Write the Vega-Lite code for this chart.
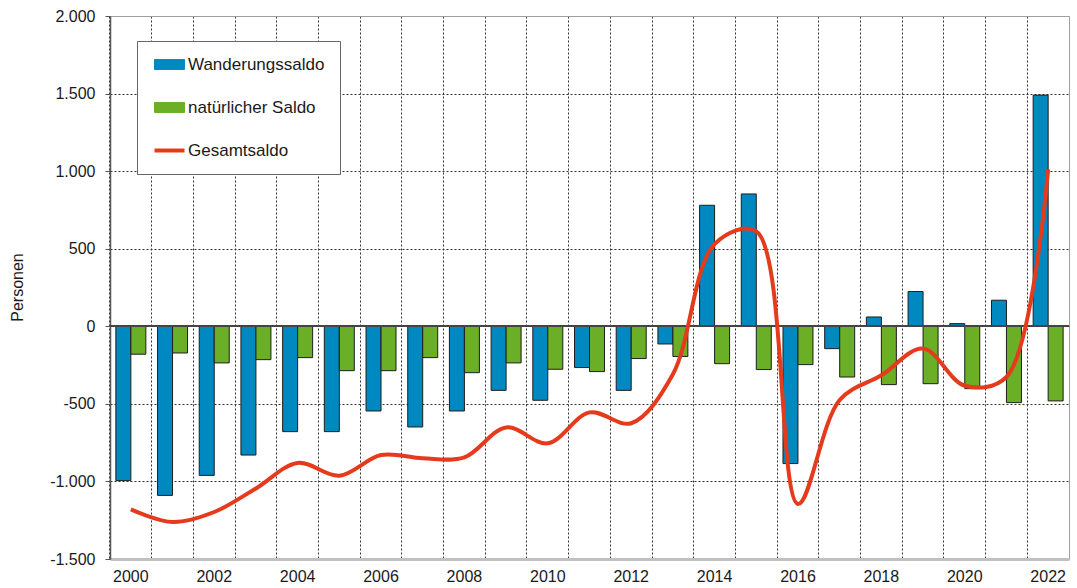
{
  "$schema": "https://vega.github.io/schema/vega-lite/v6.json",
  "width": 959,
  "height": 543,
  "autosize": "none",
  "padding": {"left": 110, "top": 16, "right": 8, "bottom": 29},
  "background": "white",
  "config": {
    "font": "Liberation Sans",
    "view": {"stroke": "#a0a0a0", "strokeWidth": 1}
  },
  "data": {
    "values": [
      {"year": 2000, "series": "Wanderungssaldo", "value": -995},
      {"year": 2000, "series": "natürlicher Saldo", "value": -180},
      {"year": 2000, "series": "Gesamtsaldo", "value": -1180},
      {"year": 2001, "series": "Wanderungssaldo", "value": -1090},
      {"year": 2001, "series": "natürlicher Saldo", "value": -172},
      {"year": 2001, "series": "Gesamtsaldo", "value": -1262},
      {"year": 2002, "series": "Wanderungssaldo", "value": -961},
      {"year": 2002, "series": "natürlicher Saldo", "value": -236},
      {"year": 2002, "series": "Gesamtsaldo", "value": -1197},
      {"year": 2003, "series": "Wanderungssaldo", "value": -830},
      {"year": 2003, "series": "natürlicher Saldo", "value": -215},
      {"year": 2003, "series": "Gesamtsaldo", "value": -1045},
      {"year": 2004, "series": "Wanderungssaldo", "value": -679},
      {"year": 2004, "series": "natürlicher Saldo", "value": -202},
      {"year": 2004, "series": "Gesamtsaldo", "value": -881},
      {"year": 2005, "series": "Wanderungssaldo", "value": -679},
      {"year": 2005, "series": "natürlicher Saldo", "value": -286},
      {"year": 2005, "series": "Gesamtsaldo", "value": -963},
      {"year": 2006, "series": "Wanderungssaldo", "value": -546},
      {"year": 2006, "series": "natürlicher Saldo", "value": -286},
      {"year": 2006, "series": "Gesamtsaldo", "value": -830},
      {"year": 2007, "series": "Wanderungssaldo", "value": -649},
      {"year": 2007, "series": "natürlicher Saldo", "value": -202},
      {"year": 2007, "series": "Gesamtsaldo", "value": -851},
      {"year": 2008, "series": "Wanderungssaldo", "value": -546},
      {"year": 2008, "series": "natürlicher Saldo", "value": -299},
      {"year": 2008, "series": "Gesamtsaldo", "value": -845},
      {"year": 2009, "series": "Wanderungssaldo", "value": -413},
      {"year": 2009, "series": "natürlicher Saldo", "value": -236},
      {"year": 2009, "series": "Gesamtsaldo", "value": -652},
      {"year": 2010, "series": "Wanderungssaldo", "value": -477},
      {"year": 2010, "series": "natürlicher Saldo", "value": -277},
      {"year": 2010, "series": "Gesamtsaldo", "value": -754},
      {"year": 2011, "series": "Wanderungssaldo", "value": -266},
      {"year": 2011, "series": "natürlicher Saldo", "value": -292},
      {"year": 2011, "series": "Gesamtsaldo", "value": -555},
      {"year": 2012, "series": "Wanderungssaldo", "value": -413},
      {"year": 2012, "series": "natürlicher Saldo", "value": -208},
      {"year": 2012, "series": "Gesamtsaldo", "value": -625},
      {"year": 2013, "series": "Wanderungssaldo", "value": -114},
      {"year": 2013, "series": "natürlicher Saldo", "value": -195},
      {"year": 2013, "series": "Gesamtsaldo", "value": -309},
      {"year": 2014, "series": "Wanderungssaldo", "value": 780},
      {"year": 2014, "series": "natürlicher Saldo", "value": -241},
      {"year": 2014, "series": "Gesamtsaldo", "value": 530},
      {"year": 2015, "series": "Wanderungssaldo", "value": 853},
      {"year": 2015, "series": "natürlicher Saldo", "value": -279},
      {"year": 2015, "series": "Gesamtsaldo", "value": 612},
      {"year": 2016, "series": "Wanderungssaldo", "value": -885},
      {"year": 2016, "series": "natürlicher Saldo", "value": -247},
      {"year": 2016, "series": "Gesamtsaldo", "value": -1145},
      {"year": 2017, "series": "Wanderungssaldo", "value": -144},
      {"year": 2017, "series": "natürlicher Saldo", "value": -327},
      {"year": 2017, "series": "Gesamtsaldo", "value": -475},
      {"year": 2018, "series": "Wanderungssaldo", "value": 60},
      {"year": 2018, "series": "natürlicher Saldo", "value": -376},
      {"year": 2018, "series": "Gesamtsaldo", "value": -316},
      {"year": 2019, "series": "Wanderungssaldo", "value": 224},
      {"year": 2019, "series": "natürlicher Saldo", "value": -370},
      {"year": 2019, "series": "Gesamtsaldo", "value": -144},
      {"year": 2020, "series": "Wanderungssaldo", "value": 17},
      {"year": 2020, "series": "natürlicher Saldo", "value": -402},
      {"year": 2020, "series": "Gesamtsaldo", "value": -383},
      {"year": 2021, "series": "Wanderungssaldo", "value": 168},
      {"year": 2021, "series": "natürlicher Saldo", "value": -492},
      {"year": 2021, "series": "Gesamtsaldo", "value": -327},
      {"year": 2022, "series": "Wanderungssaldo", "value": 1490},
      {"year": 2022, "series": "natürlicher Saldo", "value": -481},
      {"year": 2022, "series": "Gesamtsaldo", "value": 1012}
    ]
  },
  "encoding": {
    "x": {
      "field": "year",
      "type": "ordinal",
      "scale": {"paddingInner": 0, "paddingOuter": 0},
      "axis": {
        "title": null,
        "labelAngle": 0,
        "labelFontSize": 16,
        "labelColor": "#1a1a1a",
        "labelPadding": 9,
        "labelExpr": "datum.value % 2 == 0 ? datum.label : ''",
        "ticks": false,
        "domainColor": "#c0c0c0",
        "domainWidth": 3,
        "grid": true,
        "bandPosition": 0,
        "gridColor": "#333333",
        "gridDash": [2, 2],
        "gridWidth": 1
      }
    },
    "y": {
      "field": "value",
      "type": "quantitative",
      "scale": {"domain": [-1500, 2000], "nice": false, "zero": false},
      "axis": {
        "title": "Personen",
        "titleFontSize": 16,
        "titleFontWeight": "normal",
        "titleColor": "#1a1a1a",
        "titleX": -93,
        "titleY": 271,
        "titleAngle": -90,
        "titleAlign": "center",
        "titleBaseline": "middle",
        "values": [-1500, -1000, -500, 0, 500, 1000, 1500, 2000],
        "labelExpr": "replace(replace(format(datum.value, ','), ',', '.'), '\u2212', '-')",
        "labelFontSize": 16,
        "labelColor": "#1a1a1a",
        "labelPadding": 10,
        "tickSize": 5,
        "tickColor": "#555555",
        "domainColor": "#555555",
        "domainWidth": 1.5,
        "grid": true,
        "gridColor": {"condition": {"test": "datum.value === 2000", "value": "#a0a0a0"}, "value": "#333333"},
        "gridDash": {"condition": {"test": "datum.value === 2000 || datum.value === 0", "value": []}, "value": [2, 2]},
        "gridOpacity": {"condition": {"test": "datum.value === -1500", "value": 0}, "value": 1},
        "gridWidth": 1
      }
    }
  },
  "layer": [
    {
      "transform": [{"filter": "datum.series !== 'Gesamtsaldo'"}],
      "mark": {"type": "bar", "stroke": "#1e1e1e", "strokeWidth": 1},
      "encoding": {
        "xOffset": {
          "field": "series",
          "type": "nominal",
          "sort": ["Wanderungssaldo", "natürlicher Saldo"],
          "scale": {"paddingInner": 0, "paddingOuter": 0.39}
        },
        "color": {"field": "series", "type": "nominal"}
      }
    },
    {
      "mark": {"type": "rule", "color": "#444444", "strokeWidth": 1.5},
      "encoding": {"y": {"datum": 0}, "x": {"value": 0}, "x2": {"value": 959}}
    },
    {
      "transform": [{"filter": "datum.series === 'Gesamtsaldo'"}],
      "mark": {"type": "line", "interpolate": "catmull-rom", "strokeWidth": 4},
      "encoding": {
        "color": {
          "field": "series",
          "type": "nominal",
          "scale": {
            "domain": ["Wanderungssaldo", "natürlicher Saldo", "Gesamtsaldo"],
            "range": ["#0088c0", "#6aaf25", "#e63a1c"]
          },
          "legend": {
            "title": null,
            "orient": "none",
            "legendX": 27,
            "legendY": 25,
            "direction": "vertical",
            "padding": 15,
            "strokeColor": "#666666",
            "fillColor": "white",
            "labelFontSize": 17,
            "labelColor": "#1a1a1a",
            "labelLimit": 300,
            "labelOffset": 10,
            "symbolOffset": 9,
            "rowPadding": 25,
            "symbolSize": 900,
            "symbolType": "M-1,-0.33H1V0.33H-1Z",
            "encode": {
              "symbols": {
                "update": {
                  "shape": {"signal": "datum.value === 'Gesamtsaldo' ? 'M-1,0H1' : 'M-1,-0.33H1V0.33H-1Z'"},
                  "fill": {"signal": "datum.value === 'Gesamtsaldo' ? 'transparent' : scale('color', datum.value)"},
                  "stroke": {"signal": "datum.value === 'Gesamtsaldo' ? scale('color', datum.value) : '#1e1e1e'"},
                  "strokeWidth": {"signal": "datum.value === 'Gesamtsaldo' ? 4 : 1"},
                  "opacity": {"value": 1},
                  "fillOpacity": {"value": 1}
                }
              }
            }
          }
        }
      }
    }
  ]
}
